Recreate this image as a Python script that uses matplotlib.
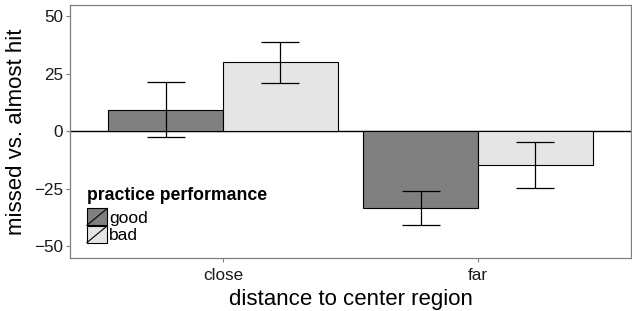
import matplotlib
matplotlib.use("Agg")
import matplotlib.pyplot as plt
import numpy as np
from matplotlib.legend_handler import HandlerBase
from matplotlib.patches import Rectangle
from matplotlib.lines import Line2D

plt.rcParams['font.family'] = ['Liberation Sans', 'DejaVu Sans']

# data
DISTANCE = ['close', 'far']
GROUPS = ['good', 'bad']
MEANS = {'good': [9.4, -33.2], 'bad': [30.0, -14.8]}
ERRS = {'good': [11.9, 7.4], 'bad': [8.9, 9.9]}
FILLS = {'good': '#808080', 'bad': '#E5E5E5'}
Y_TICKS = [-50, -25, 0, 25, 50]


class SlashKey(HandlerBase):
    # ggplot-style legend key: filled box with a diagonal stroke
    def create_artists(self, legend, orig_handle, xdescent, ydescent,
                       width, height, fontsize, trans):
        x0, y0 = -xdescent, -ydescent
        box = Rectangle((x0, y0), width, height,
                        facecolor=orig_handle.get_facecolor(),
                        edgecolor='black', lw=0.8, transform=trans)
        slash = Line2D([x0, x0 + width], [y0, y0 + height],
                       color='black', lw=0.8, transform=trans)
        return [box, slash]


fig = plt.figure(figsize=(6.32, 3.11), dpi=100)
ax = fig.add_axes([0.1108, 0.1695, 0.8876, 0.8145])

x = np.arange(1, len(DISTANCE) + 1)
bar_w = 0.45
ax.axhline(0, color='black', lw=1.0, zorder=1)

handles = []
for i, g in enumerate(GROUPS):
    pos = x + (i - 0.5) * bar_w
    b = ax.bar(pos, MEANS[g], width=bar_w, color=FILLS[g], edgecolor='black',
               linewidth=0.8, zorder=2)
    ax.errorbar(pos, MEANS[g], yerr=ERRS[g], fmt='none', ecolor='black',
                elinewidth=0.9, capsize=13.5, capthick=0.9, zorder=3)
    handles.append(b.patches[0])

ax.set_xlim(0.4, 2.6)
ax.set_ylim(-55.2, 54.8)
ax.set_xticks(x)
ax.set_xticklabels(DISTANCE)
ax.set_yticks(Y_TICKS)
ax.set_yticklabels([str(t).replace('-', '\u2212') for t in Y_TICKS])
ax.tick_params(axis='both', length=3, width=0.8, color='#7f7f7f',
               labelsize=12.3, labelcolor='#1a1a1a', pad=2)
ax.tick_params(axis='x', pad=4)
for s in ax.spines.values():
    s.set_color('#7f7f7f')
    s.set_linewidth(0.9)

ax.set_xlabel('distance to center region', fontsize=16, labelpad=4)
ax.set_ylabel('missed vs. almost hit', fontsize=16, labelpad=5)

leg = ax.legend(handles, GROUPS, title='practice performance',
                handler_map={h: SlashKey() for h in handles},
                loc='lower left', bbox_to_anchor=(0.03, 0.06),
                frameon=False, fontsize=12.5, handlelength=1.18,
                handleheight=1.12, handletextpad=0.1, labelspacing=0.0,
                borderpad=0, borderaxespad=0, alignment='left',
                title_fontproperties={'weight': 'bold', 'size': 12.7})
leg._legend_box.sep = 3

fig.savefig('out.png', dpi=100)
